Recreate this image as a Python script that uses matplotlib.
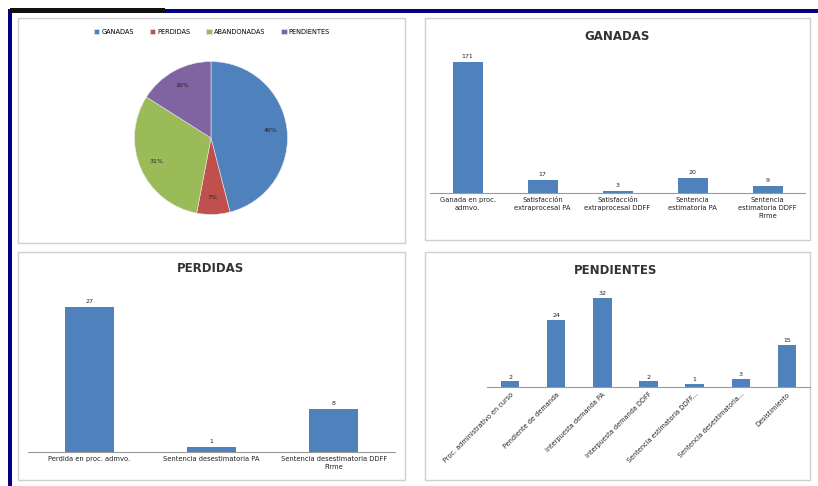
import matplotlib
matplotlib.use("Agg")
import matplotlib.pyplot as plt
from matplotlib.patches import Rectangle
import numpy as np

# Pie data (percentages)
pie_labels = ["GANADAS", "PERDIDAS", "ABANDONADAS", "PENDIENTES"]
pie_values = [46, 7, 31, 16]
pie_colors = ["#4F81BD", "#C0504D", "#9BBB59", "#8064A2"]

# Bar panels
ganadas_cats = ["Ganada en proc.\nadmvo.", "Satisfacción\nextraprocesal PA",
                "Satisfacción\nextraprocesal DDFF", "Sentencia\nestimatoria PA",
                "Sentencia\nestimatoria DDFF\nFirme"]
ganadas_vals = [171, 17, 3, 20, 9]

perdidas_cats = ["Perdida en proc. admvo.", "Sentencia desestimatoria PA",
                 "Sentencia desestimatoria DDFF\nFirme"]
perdidas_vals = [27, 1, 8]

pend_cats = ["Proc. administrativo en curso", "Pendiente de demanda",
             "Interpuesta demanda PA", "Interpuesta demanda DDFF",
             "Sentencia estimatoria DDFF...", "Sentencia desestimatoria...",
             "Desistimiento"]
pend_vals = [2, 24, 32, 2, 1, 3, 15]

BAR = "#4F81BD"
W, H = 818, 486

fig = plt.figure(figsize=(W / 100, H / 100), dpi=100)
fig.patch.set_facecolor("white")


def px_axes(left, top, right, bottom):
    return fig.add_axes([left / W, 1 - bottom / H, (right - left) / W, (bottom - top) / H])


def px_rect(x0, y0, x1, y1, **kw):
    fig.patches.append(Rectangle((x0 / W, 1 - y1 / H), (x1 - x0) / W, (y1 - y0) / H,
                                 transform=fig.transFigure, figure=fig, zorder=-5, **kw))


# outer frame
px_rect(8, 9, 818, 13, facecolor="#000080", edgecolor="none")
px_rect(8, 9, 12, 486, facecolor="#000080", edgecolor="none")
px_rect(10, 8, 165, 13, facecolor="#111111", edgecolor="none")

# panel boxes
for box in [(18, 18, 405, 243), (425, 18, 810, 240), (18, 252, 405, 480), (425, 252, 810, 480)]:
    px_rect(*box, facecolor="white", edgecolor="#cfcfcf", linewidth=1.0)

# pie
axp = px_axes(132, 60, 290, 216)
wedges, _ = axp.pie(pie_values, colors=pie_colors, startangle=90, counterclock=False,
                    radius=1, wedgeprops=dict(edgecolor="#e8e8e8", linewidth=0.4))
axp.set_xlim(-1.02, 1.02)
axp.set_ylim(-1.02, 1.02)
for w, v in zip(wedges, pie_values):
    mid = np.deg2rad((w.theta1 + w.theta2) / 2)
    axp.text(0.78 * np.cos(mid), 0.78 * np.sin(mid), f"{v}%", ha="center", va="center",
             fontsize=4.5, color="#222222")
fig.legend(wedges, pie_labels, loc="center", bbox_to_anchor=(212 / W, 1 - 32 / H),
           ncol=4, fontsize=4.8, frameon=False, handlelength=0.8, handleheight=0.8,
           columnspacing=2.4, handletextpad=0.3)


def bar_panel(ax, cats, vals, ymax, rot=0):
    x = np.arange(len(cats))
    ax.bar(x, vals, width=0.4, color=BAR)
    for xi, v in zip(x, vals):
        ax.text(xi, v + ymax * 0.02, str(v), ha="center", va="bottom", fontsize=4.5, color="#222222")
    ax.set_xlim(-0.5, len(cats) - 0.5)
    ax.set_ylim(0, ymax)
    ax.set_xticks(x)
    if rot:
        ax.set_xticklabels(cats, rotation=rot, ha="right", rotation_mode="anchor", fontsize=4.7)
    else:
        ax.set_xticklabels(cats, fontsize=4.9, linespacing=1.4)
    ax.tick_params(axis="x", length=0, pad=3, colors="#222222")
    ax.set_yticks([])
    for s in ["top", "left", "right"]:
        ax.spines[s].set_visible(False)
    ax.spines["bottom"].set_color("#9a9a9a")
    ax.spines["bottom"].set_linewidth(0.8)
    ax.patch.set_alpha(0)


ax1 = px_axes(430, 55, 805, 193)
bar_panel(ax1, ganadas_cats, ganadas_vals, 180)
fig.text(617 / W, 1 - 36 / H, "GANADAS", ha="center", va="center", fontsize=8.5, fontweight="bold",
         color="#333333")

ax2 = px_axes(28, 300, 395, 452)
bar_panel(ax2, perdidas_cats, perdidas_vals, 28.3)
fig.text(210 / W, 1 - 268 / H, "PERDIDAS", ha="center", va="center", fontsize=8.5, fontweight="bold",
         color="#333333")

ax3 = px_axes(487, 290, 810, 387)
bar_panel(ax3, pend_cats, pend_vals, 34.9, rot=45)
fig.text(616 / W, 1 - 270 / H, "PENDIENTES", ha="center", va="center", fontsize=8.5, fontweight="bold",
         color="#333333")

fig.savefig("out.png", dpi=100)
